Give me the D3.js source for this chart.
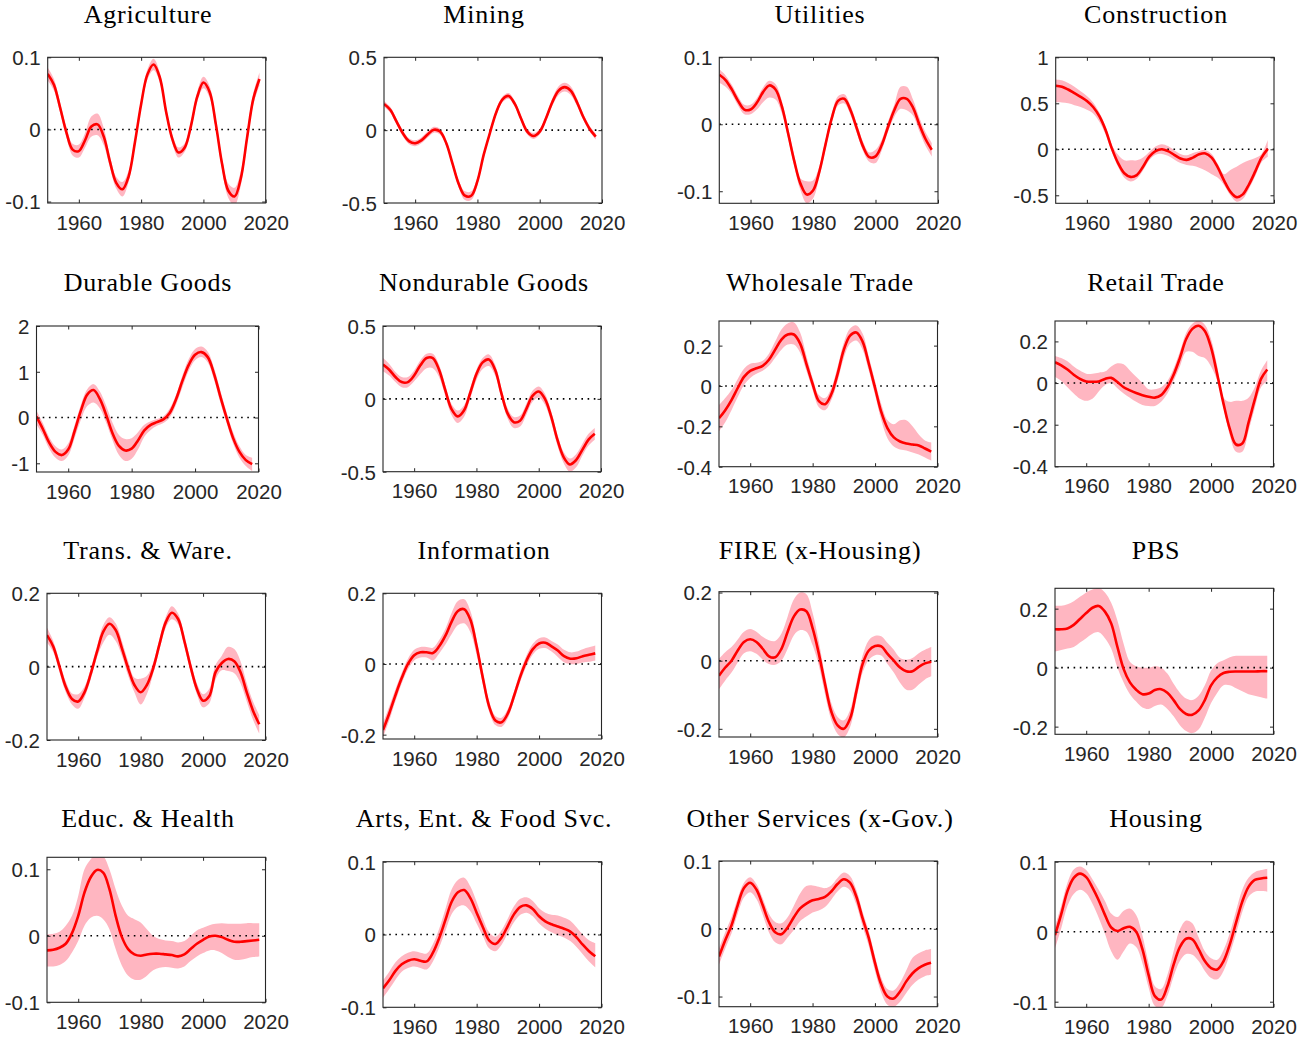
<!DOCTYPE html>
<html>
<head>
<meta charset="utf-8">
<script src="https://cdn.jsdelivr.net/npm/d3@7"></script>
<style>
  body { margin: 0; background: #fff; }
</style>
</head>
<body>
<svg id="chart" width="1310" height="1040"></svg>
<script>
// Years sampled every two years
const years = [1950, 1952, 1954, 1956, 1958, 1960, 1962, 1964, 1966, 1968,
  1970, 1972, 1974, 1976, 1978, 1980, 1982, 1984, 1986, 1988,
  1990, 1992, 1994, 1996, 1998, 2000, 2002, 2004, 2006, 2008,
  2010, 2012, 2014, 2016, 2018];
const xTicks = [1960, 1980, 2000, 2020];

const sectors = ["Agriculture", "Mining", "Utilities", "Construction",
  "Durable Goods", "Nondurable Goods", "Wholesale Trade", "Retail Trade",
  "Trans. & Ware.", "Information", "FIRE (x-Housing)", "PBS",
  "Educ. & Health", "Arts, Ent. & Food Svc.", "Other Services (x-Gov.)", "Housing"];

const yLimits = [[-0.102, 0.1], [-0.5, 0.5], [-0.118, 0.1], [-0.587, 1],
  [-1.19, 2], [-0.5, 0.5], [-0.4, 0.322], [-0.4016, 0.298],
  [-0.2, 0.2], [-0.2123, 0.2], [-0.224, 0.2025], [-0.226, 0.269],
  [-0.1, 0.118], [-0.1, 0.1], [-0.115, 0.1], [-0.108, 0.1]];

const yTicks = [[-0.1, 0, 0.1], [-0.5, 0, 0.5], [-0.1, 0, 0.1], [-0.5, 0, 0.5, 1],
  [-1, 0, 1, 2], [-0.5, 0, 0.5], [-0.4, -0.2, 0, 0.2], [-0.4, -0.2, 0, 0.2],
  [-0.2, 0, 0.2], [-0.2, 0, 0.2], [-0.2, 0, 0.2], [-0.2, 0, 0.2],
  [-0.1, 0, 0.1], [-0.1, 0, 0.1], [-0.1, 0, 0.1], [-0.1, 0, 0.1]];

// estimate, lower and upper band for every sector
const agricultureMid = [0.077,0.062,0.030,-0.004,-0.028,-0.030,-0.015,0.004,0.007,-0.010,-0.045,-0.074,-0.083,-0.065,-0.018,0.035,0.076,0.090,0.072,0.025,-0.013,-0.032,-0.025,0.005,0.045,0.065,0.052,0.007,-0.048,-0.085,-0.093,-0.068,-0.012,0.042,0.070];
const agricultureLo = [0.068,0.054,0.023,-0.011,-0.036,-0.039,-0.025,-0.010,-0.008,-0.022,-0.053,-0.082,-0.093,-0.073,-0.024,0.029,0.069,0.082,0.065,0.019,-0.019,-0.039,-0.031,-0.001,0.038,0.057,0.044,0.000,-0.056,-0.095,-0.105,-0.078,-0.020,0.034,0.061];
const agricultureHi = [0.086,0.070,0.037,0.003,-0.020,-0.021,-0.005,0.018,0.022,0.002,-0.037,-0.066,-0.073,-0.057,-0.012,0.041,0.083,0.098,0.079,0.031,-0.007,-0.025,-0.019,0.011,0.052,0.073,0.060,0.014,-0.040,-0.075,-0.081,-0.058,-0.004,0.050,0.079];

const miningMid = [0.18,0.14,0.06,-0.02,-0.075,-0.09,-0.07,-0.03,0.003,-0.01,-0.09,-0.23,-0.37,-0.45,-0.45,-0.35,-0.17,-0.02,0.12,0.21,0.235,0.18,0.08,-0.01,-0.04,-0.01,0.08,0.19,0.27,0.295,0.27,0.19,0.09,0.01,-0.045];
const miningLo = [0.16,0.12,0.04,-0.04,-0.095,-0.11,-0.09,-0.05,-0.017,-0.03,-0.11,-0.25,-0.395,-0.48,-0.48,-0.375,-0.19,-0.04,0.10,0.19,0.215,0.16,0.06,-0.03,-0.06,-0.03,0.06,0.165,0.24,0.265,0.24,0.165,0.07,-0.01,-0.065];
const miningHi = [0.20,0.16,0.08,0.00,-0.055,-0.07,-0.05,-0.01,0.023,0.01,-0.07,-0.21,-0.345,-0.42,-0.42,-0.325,-0.15,0.00,0.14,0.23,0.255,0.20,0.10,0.01,-0.02,0.01,0.10,0.215,0.30,0.325,0.30,0.215,0.11,0.03,-0.025];

const utilitiesMid = [0.074,0.066,0.052,0.035,0.022,0.022,0.032,0.048,0.058,0.052,0.027,-0.013,-0.055,-0.089,-0.105,-0.099,-0.071,-0.03,0.009,0.035,0.038,0.021,-0.006,-0.033,-0.049,-0.048,-0.031,-0.004,0.021,0.038,0.038,0.025,0.0,-0.022,-0.038];
const utilitiesLo = [0.062,0.056,0.045,0.028,0.015,0.015,0.022,0.033,0.040,0.037,0.017,-0.021,-0.063,-0.099,-0.118,-0.111,-0.079,-0.037,0.002,0.028,0.031,0.014,-0.013,-0.040,-0.056,-0.058,-0.039,-0.011,0.011,0.023,0.021,0.013,-0.010,-0.032,-0.048];
const utilitiesHi = [0.082,0.073,0.059,0.042,0.029,0.029,0.039,0.055,0.065,0.060,0.035,-0.005,-0.047,-0.081,-0.085,-0.084,-0.063,-0.023,0.016,0.042,0.045,0.028,0.001,-0.026,-0.042,-0.038,-0.023,0.004,0.029,0.056,0.056,0.037,0.010,-0.012,-0.028];

const constructionMid = [0.69,0.68,0.65,0.61,0.57,0.525,0.46,0.36,0.21,0.01,-0.15,-0.26,-0.30,-0.28,-0.19,-0.08,-0.02,0.00,-0.02,-0.06,-0.10,-0.115,-0.09,-0.055,-0.045,-0.09,-0.20,-0.34,-0.46,-0.52,-0.49,-0.38,-0.24,-0.09,0.005];
const constructionLo = [0.51,0.51,0.50,0.48,0.46,0.43,0.39,0.30,0.16,-0.03,-0.19,-0.31,-0.35,-0.32,-0.23,-0.12,-0.06,-0.05,-0.07,-0.11,-0.15,-0.17,-0.18,-0.20,-0.23,-0.27,-0.31,-0.39,-0.50,-0.57,-0.54,-0.43,-0.29,-0.14,-0.08];
const constructionHi = [0.76,0.75,0.72,0.68,0.63,0.58,0.51,0.40,0.25,0.05,-0.06,-0.12,-0.12,-0.12,-0.09,-0.03,0.03,0.055,0.035,-0.01,-0.05,-0.065,-0.04,-0.02,-0.01,-0.05,-0.16,-0.27,-0.225,-0.19,-0.15,-0.12,-0.095,-0.05,0.10];

const durableMid = [0.02,-0.25,-0.55,-0.75,-0.82,-0.70,-0.30,0.15,0.50,0.60,0.40,0.05,-0.35,-0.62,-0.72,-0.68,-0.50,-0.28,-0.16,-0.10,-0.04,0.10,0.40,0.80,1.15,1.37,1.43,1.32,0.95,0.45,-0.02,-0.45,-0.75,-0.93,-1.02];
const durableLo = [-0.15,-0.38,-0.68,-0.88,-0.95,-0.83,-0.45,-0.05,0.25,0.33,0.20,-0.12,-0.50,-0.82,-0.95,-0.90,-0.70,-0.42,-0.27,-0.18,-0.12,0.00,0.28,0.66,1.02,1.25,1.32,1.20,0.82,0.32,-0.13,-0.57,-0.88,-1.06,-1.17];
const durableHi = [0.15,-0.12,-0.43,-0.63,-0.70,-0.57,-0.17,0.28,0.62,0.73,0.57,0.25,-0.12,-0.38,-0.47,-0.45,-0.32,-0.16,-0.08,-0.03,0.03,0.20,0.50,0.92,1.28,1.50,1.55,1.44,1.08,0.58,0.10,-0.32,-0.63,-0.82,-0.88];

const nondurableMid = [0.235,0.20,0.15,0.115,0.115,0.16,0.23,0.28,0.28,0.20,0.06,-0.07,-0.12,-0.08,0.04,0.17,0.25,0.27,0.20,0.04,-0.10,-0.16,-0.15,-0.07,0.02,0.05,0.00,-0.12,-0.28,-0.40,-0.45,-0.42,-0.35,-0.28,-0.24];
const nondurableLo = [0.19,0.16,0.115,0.08,0.08,0.12,0.17,0.21,0.21,0.15,0.02,-0.11,-0.165,-0.125,0.00,0.13,0.205,0.225,0.16,0.005,-0.135,-0.20,-0.19,-0.11,-0.02,0.01,-0.04,-0.16,-0.32,-0.44,-0.50,-0.47,-0.39,-0.32,-0.28];
const nondurableHi = [0.28,0.24,0.185,0.15,0.15,0.195,0.265,0.31,0.31,0.235,0.095,-0.035,-0.08,-0.045,0.075,0.20,0.28,0.305,0.235,0.075,-0.065,-0.125,-0.115,-0.035,0.055,0.085,0.035,-0.085,-0.245,-0.365,-0.41,-0.38,-0.31,-0.24,-0.20];

const wholesaleMid = [-0.16,-0.12,-0.07,-0.01,0.045,0.075,0.088,0.10,0.13,0.18,0.23,0.255,0.255,0.21,0.11,0.01,-0.075,-0.09,-0.04,0.06,0.18,0.25,0.265,0.22,0.11,-0.01,-0.13,-0.21,-0.255,-0.275,-0.285,-0.29,-0.295,-0.31,-0.325];
const wholesaleLo = [-0.225,-0.18,-0.12,-0.055,0.005,0.04,0.06,0.075,0.1,0.14,0.18,0.205,0.205,0.165,0.075,-0.02,-0.105,-0.12,-0.07,0.025,0.14,0.21,0.225,0.18,0.075,-0.045,-0.17,-0.26,-0.3,-0.315,-0.32,-0.33,-0.34,-0.355,-0.37];
const wholesaleHi = [-0.095,-0.06,-0.02,0.035,0.085,0.11,0.115,0.125,0.16,0.22,0.28,0.31,0.315,0.265,0.15,0.04,-0.045,-0.06,-0.01,0.095,0.215,0.285,0.3,0.26,0.145,0.025,-0.09,-0.17,-0.19,-0.17,-0.17,-0.2,-0.24,-0.27,-0.28];

const retailMid = [0.10,0.085,0.065,0.04,0.02,0.008,0.006,0.008,0.02,0.025,0.005,-0.02,-0.035,-0.048,-0.058,-0.066,-0.07,-0.058,-0.02,0.04,0.12,0.21,0.26,0.275,0.25,0.17,0.04,-0.10,-0.22,-0.295,-0.29,-0.19,-0.08,0.02,0.065];
const retailLo = [0.03,0.01,-0.02,-0.05,-0.075,-0.085,-0.075,-0.04,-0.01,0.00,-0.025,-0.05,-0.07,-0.09,-0.105,-0.11,-0.11,-0.09,-0.05,0.01,0.08,0.15,0.15,0.13,0.12,0.08,0.01,-0.12,-0.25,-0.33,-0.33,-0.23,-0.12,-0.02,0.01];
const retailHi = [0.13,0.12,0.105,0.08,0.06,0.045,0.045,0.05,0.055,0.08,0.095,0.09,0.06,0.03,0.0,-0.03,-0.03,-0.02,0.01,0.07,0.15,0.24,0.285,0.30,0.28,0.21,0.08,-0.07,-0.09,-0.085,-0.085,-0.07,-0.02,0.06,0.11];

const transMid = [0.086,0.055,0.0,-0.055,-0.088,-0.095,-0.07,-0.02,0.04,0.095,0.117,0.10,0.05,-0.005,-0.05,-0.07,-0.05,-0.005,0.06,0.12,0.147,0.13,0.07,0.0,-0.06,-0.093,-0.08,-0.015,0.01,0.021,0.015,-0.015,-0.07,-0.12,-0.157];
const transLo = [0.066,0.04,-0.015,-0.07,-0.103,-0.115,-0.085,-0.035,0.025,0.065,0.087,0.07,0.03,-0.025,-0.07,-0.103,-0.075,-0.02,0.045,0.105,0.129,0.115,0.055,-0.015,-0.075,-0.111,-0.1,-0.035,-0.01,-0.012,-0.018,-0.045,-0.095,-0.145,-0.182];
const transHi = [0.106,0.07,0.015,-0.04,-0.073,-0.075,-0.055,-0.005,0.055,0.113,0.135,0.118,0.07,0.015,-0.03,-0.033,-0.025,0.01,0.075,0.135,0.165,0.145,0.085,0.015,-0.045,-0.075,-0.06,0.005,0.03,0.054,0.048,0.015,-0.045,-0.095,-0.132];

const informationMid = [-0.187,-0.14,-0.088,-0.04,0.0,0.025,0.033,0.033,0.031,0.05,0.08,0.12,0.15,0.155,0.125,0.05,-0.04,-0.12,-0.16,-0.165,-0.14,-0.09,-0.035,0.01,0.042,0.058,0.06,0.05,0.038,0.022,0.015,0.016,0.022,0.026,0.03];
const informationLo = [-0.207,-0.16,-0.105,-0.055,-0.015,0.01,0.018,0.018,0.01,0.03,0.055,0.085,0.11,0.115,0.09,0.025,-0.058,-0.135,-0.173,-0.178,-0.153,-0.103,-0.05,-0.005,0.027,0.043,0.045,0.035,0.02,0.005,0.0,0.0,0.004,0.006,0.01];
const informationHi = [-0.167,-0.12,-0.071,-0.025,0.015,0.04,0.048,0.048,0.046,0.068,0.1,0.145,0.178,0.183,0.15,0.07,-0.022,-0.105,-0.147,-0.152,-0.127,-0.077,-0.02,0.025,0.057,0.073,0.075,0.065,0.055,0.04,0.033,0.035,0.042,0.047,0.052];

const fireMid = [-0.044,-0.02,0.0,0.03,0.055,0.063,0.055,0.035,0.013,0.01,0.035,0.085,0.13,0.15,0.145,0.095,0.02,-0.07,-0.15,-0.19,-0.2,-0.17,-0.09,-0.01,0.03,0.043,0.042,0.02,0.0,-0.02,-0.031,-0.031,-0.018,-0.008,-0.003];
const fireLo = [-0.084,-0.058,-0.035,-0.005,0.022,0.028,0.02,0.003,-0.01,-0.012,0.0,0.035,0.075,0.09,0.085,0.045,-0.015,-0.1,-0.175,-0.215,-0.225,-0.195,-0.115,-0.035,0.003,0.016,0.015,-0.01,-0.035,-0.065,-0.085,-0.085,-0.07,-0.055,-0.046];
const fireHi = [0.006,0.025,0.04,0.062,0.085,0.093,0.085,0.07,0.06,0.058,0.08,0.13,0.18,0.2,0.195,0.14,0.055,-0.045,-0.125,-0.165,-0.175,-0.145,-0.065,0.015,0.06,0.073,0.072,0.052,0.032,0.008,0.003,0.008,0.022,0.032,0.04];

const pbsMid = [0.13,0.13,0.133,0.145,0.165,0.185,0.203,0.209,0.19,0.15,0.07,-0.005,-0.05,-0.075,-0.09,-0.088,-0.076,-0.073,-0.085,-0.11,-0.14,-0.157,-0.16,-0.145,-0.11,-0.06,-0.033,-0.018,-0.014,-0.013,-0.013,-0.013,-0.013,-0.012,-0.012];
const pbsLo = [0.055,0.06,0.065,0.07,0.085,0.1,0.115,0.12,0.1,0.065,0.0,-0.05,-0.09,-0.115,-0.135,-0.14,-0.13,-0.125,-0.14,-0.165,-0.195,-0.215,-0.222,-0.21,-0.17,-0.12,-0.085,-0.06,-0.06,-0.07,-0.08,-0.09,-0.095,-0.1,-0.105];
const pbsHi = [0.21,0.21,0.215,0.225,0.24,0.255,0.265,0.27,0.255,0.22,0.16,0.08,0.02,0.005,0.0,0.0,0.005,0.0,-0.02,-0.055,-0.085,-0.105,-0.11,-0.095,-0.06,-0.01,0.015,0.025,0.035,0.04,0.04,0.04,0.04,0.04,0.04];

const educMid = [-0.022,-0.021,-0.018,-0.012,0.004,0.03,0.065,0.088,0.099,0.095,0.07,0.03,-0.002,-0.02,-0.028,-0.03,-0.028,-0.027,-0.027,-0.028,-0.029,-0.031,-0.028,-0.02,-0.012,-0.006,-0.001,0.0,-0.002,-0.006,-0.009,-0.009,-0.008,-0.007,-0.006];
const educLo = [-0.046,-0.046,-0.044,-0.038,-0.025,-0.008,0.015,0.027,0.03,0.025,0.01,-0.02,-0.045,-0.06,-0.066,-0.066,-0.06,-0.052,-0.048,-0.047,-0.048,-0.049,-0.046,-0.038,-0.031,-0.026,-0.022,-0.022,-0.026,-0.032,-0.036,-0.036,-0.034,-0.032,-0.031];
const educHi = [0.002,0.003,0.006,0.015,0.03,0.06,0.1,0.115,0.124,0.12,0.1,0.07,0.045,0.03,0.025,0.02,0.01,0.0,-0.005,-0.007,-0.008,-0.01,-0.008,0.0,0.008,0.012,0.016,0.018,0.019,0.018,0.018,0.018,0.019,0.019,0.019];

const artsMid = [-0.074,-0.063,-0.05,-0.041,-0.036,-0.034,-0.036,-0.037,-0.025,-0.005,0.02,0.045,0.058,0.061,0.05,0.03,0.01,-0.008,-0.013,-0.004,0.012,0.028,0.038,0.04,0.035,0.025,0.018,0.014,0.011,0.008,0.004,-0.004,-0.014,-0.023,-0.03];
const artsLo = [-0.087,-0.075,-0.062,-0.051,-0.046,-0.044,-0.046,-0.048,-0.037,-0.018,0.005,0.028,0.038,0.04,0.032,0.015,-0.002,-0.019,-0.023,-0.014,0.002,0.017,0.027,0.03,0.025,0.015,0.008,0.003,-0.001,-0.004,-0.009,-0.017,-0.027,-0.037,-0.045];
const artsHi = [-0.063,-0.051,-0.038,-0.03,-0.025,-0.023,-0.025,-0.026,-0.013,0.008,0.035,0.062,0.075,0.078,0.066,0.045,0.022,0.003,-0.003,0.006,0.022,0.039,0.049,0.051,0.046,0.036,0.03,0.027,0.026,0.023,0.019,0.01,0.0,-0.008,-0.012];

const otherMid = [-0.041,-0.017,0.005,0.035,0.06,0.068,0.058,0.035,0.01,-0.005,-0.008,0.002,0.017,0.03,0.037,0.042,0.044,0.047,0.055,0.066,0.073,0.068,0.048,0.016,-0.013,-0.05,-0.082,-0.1,-0.103,-0.093,-0.078,-0.066,-0.058,-0.053,-0.05];
const otherLo = [-0.053,-0.029,-0.007,0.022,0.046,0.054,0.044,0.021,-0.005,-0.02,-0.023,-0.013,-0.002,0.011,0.018,0.024,0.027,0.032,0.043,0.055,0.062,0.057,0.036,0.004,-0.025,-0.062,-0.094,-0.112,-0.115,-0.108,-0.095,-0.083,-0.075,-0.07,-0.068];
const otherHi = [-0.029,-0.005,0.017,0.045,0.068,0.076,0.066,0.045,0.022,0.01,0.008,0.017,0.034,0.052,0.063,0.064,0.062,0.06,0.064,0.075,0.083,0.078,0.058,0.026,-0.003,-0.04,-0.072,-0.089,-0.091,-0.08,-0.062,-0.043,-0.036,-0.032,-0.03];

const housingMid = [-0.005,0.025,0.058,0.077,0.083,0.078,0.063,0.045,0.024,0.006,0.001,0.005,0.007,0.0,-0.025,-0.062,-0.092,-0.097,-0.078,-0.047,-0.022,-0.01,-0.011,-0.025,-0.042,-0.052,-0.054,-0.042,-0.018,0.013,0.043,0.064,0.074,0.076,0.077];
const housingLo = [-0.024,0.005,0.037,0.054,0.06,0.055,0.04,0.02,-0.003,-0.028,-0.04,-0.028,-0.017,-0.022,-0.045,-0.08,-0.106,-0.109,-0.092,-0.064,-0.042,-0.032,-0.033,-0.042,-0.056,-0.066,-0.068,-0.056,-0.032,-0.003,0.028,0.05,0.057,0.058,0.057];
const housingHi = [0.007,0.037,0.07,0.089,0.093,0.088,0.075,0.06,0.044,0.026,0.021,0.03,0.033,0.024,-0.005,-0.045,-0.078,-0.082,-0.062,-0.028,0.003,0.016,0.012,-0.008,-0.028,-0.038,-0.04,-0.026,-0.002,0.03,0.06,0.077,0.085,0.088,0.09];

const mids = [agricultureMid, miningMid, utilitiesMid, constructionMid, durableMid, nondurableMid,
  wholesaleMid, retailMid, transMid, informationMid, fireMid, pbsMid, educMid, artsMid, otherMid, housingMid];
const los = [agricultureLo, miningLo, utilitiesLo, constructionLo, durableLo, nondurableLo,
  wholesaleLo, retailLo, transLo, informationLo, fireLo, pbsLo, educLo, artsLo, otherLo, housingLo];
const his = [agricultureHi, miningHi, utilitiesHi, constructionHi, durableHi, nondurableHi,
  wholesaleHi, retailHi, transHi, informationHi, fireHi, pbsHi, educHi, artsHi, otherHi, housingHi];

// plot boxes [left, top, right, bottom], in page pixels
const boxes = [
  [47.7, 57.3, 265.7, 203], [384, 57.3, 602, 203], [719.3, 57.3, 938, 203.3], [1055.7, 57.3, 1274, 203.3],
  [36.5, 326, 258.5, 472], [383, 326, 601, 471.7], [719, 321, 937.5, 466.7], [1055, 321, 1273.5, 466.7],
  [47, 593.3, 265.5, 740], [383, 593.3, 601.5, 739], [719, 591.7, 937.5, 737], [1055, 588.3, 1273.5, 734.3],
  [47, 857.3, 265.5, 1002.3], [383, 861.7, 601.5, 1007.3], [719, 861, 937.3, 1006.7], [1055, 861.7, 1273.5, 1007.3]
];

const axisColor = "#262626";
const svg = d3.select("#chart");

sectors.forEach((name, i) => {
  const [L, T, R, B] = boxes[i];
  const col = i % 4, row = Math.floor(i / 4);

  const x = d3.scaleLinear().domain([1950, 2020]).range([L, R]);
  const y = d3.scaleLinear().domain(yLimits[i]).range([B, T]);

  const rows = years.map((yr, k) => ({ year: yr, mid: mids[i][k], lo: los[i][k], hi: his[i][k] }));

  const g = svg.append("g");

  g.append("clipPath").attr("id", "clip" + i)
    .append("rect").attr("x", L).attr("y", T).attr("width", R - L).attr("height", B - T);

  const plot = g.append("g").attr("clip-path", `url(#clip${i})`);

  // band
  plot.append("path")
    .datum(rows)
    .attr("fill", "#ffb6c1")
    .attr("d", d3.area()
      .x(d => x(d.year))
      .y0(d => y(d.lo))
      .y1(d => y(d.hi))
      .curve(d3.curveCatmullRom.alpha(0.5)));

  // zero line
  plot.append("line")
    .attr("x1", L).attr("x2", R)
    .attr("y1", y(0)).attr("y2", y(0))
    .attr("stroke", "#000")
    .attr("stroke-width", 1.6)
    .attr("stroke-dasharray", "1.6 4.6");

  // estimate
  plot.append("path")
    .datum(rows)
    .attr("fill", "none")
    .attr("stroke", "#ff0000")
    .attr("stroke-width", 2.6)
    .attr("d", d3.line()
      .x(d => x(d.year))
      .y(d => y(d.mid))
      .curve(d3.curveCatmullRom.alpha(0.5)));

  // axes, ticks pointing inside
  const bottom = g.append("g")
    .attr("transform", `translate(0,${B})`)
    .call(d3.axisBottom(x).tickValues(xTicks).tickFormat(d3.format("d"))
      .tickSizeInner(-3.5).tickSizeOuter(0).tickPadding(12));
  const top = g.append("g")
    .attr("transform", `translate(0,${T})`)
    .call(d3.axisTop(x).tickValues(xTicks).tickFormat("").tickSizeInner(-3.5).tickSizeOuter(0));
  const left = g.append("g")
    .attr("transform", `translate(${L},0)`)
    .call(d3.axisLeft(y).tickValues(yTicks[i]).tickFormat(d => String(d))
      .tickSizeInner(-3.5).tickSizeOuter(0).tickPadding(7));
  const right = g.append("g")
    .attr("transform", `translate(${R},0)`)
    .call(d3.axisRight(y).tickValues(yTicks[i]).tickFormat("").tickSizeInner(-3.5).tickSizeOuter(0));

  [bottom, top, left, right].forEach(a => {
    a.select(".domain").remove();
    a.selectAll(".tick line").attr("stroke", axisColor).attr("stroke-width", 1);
    a.selectAll("text")
      .attr("fill", axisColor)
      .style("font-family", "'Liberation Sans', Arial, sans-serif")
      .style("font-size", "20.5px");
  });
  left.selectAll("text").attr("dy", "0.36em");

  g.append("rect")
    .attr("x", L).attr("y", T)
    .attr("width", R - L).attr("height", B - T)
    .attr("fill", "none")
    .attr("stroke", axisColor)
    .attr("stroke-width", 1.1);

  // title
  g.append("text")
    .attr("x", 148 + 336 * col)
    .attr("y", 23 + 268 * row)
    .attr("text-anchor", "middle")
    .style("font-family", "'Liberation Serif', 'Times New Roman', serif")
    .style("font-size", "26px")
    .style("letter-spacing", "0.8px")
    .attr("fill", "#000")
    .text(name);
});
</script>
</body>
</html>
